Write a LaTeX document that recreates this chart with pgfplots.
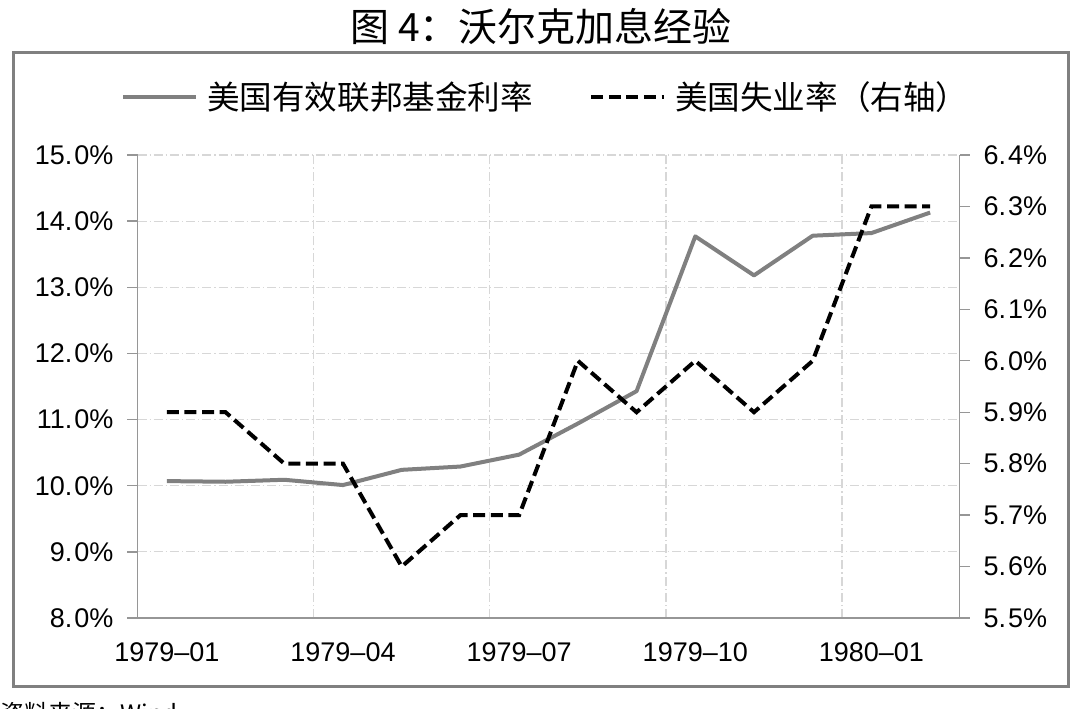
\documentclass[border=0pt]{standalone}
\usepackage{fontspec}
\setmainfont{Liberation Sans}
\newfontfamily\cjk{Noto Sans CJK SC}
\usepackage{pgfplots}
\pgfplotsset{compat=1.18}
\definecolor{fedgray}{RGB}{128,128,128}
\definecolor{axisgray}{RGB}{150,150,150}
\definecolor{gridgray}{RGB}{215,215,215}
\definecolor{framegray}{RGB}{128,128,128}
\begin{document}
\begin{tikzpicture}
\useasboundingbox (0pt,0pt) rectangle (540pt,354pt);
% frame
\draw[framegray, line width=1.5pt] (6.5pt,11pt) rectangle (534pt,327.5pt);
% title
\node[font=\cjk\fontsize{19.5}{23}\selectfont, anchor=center] at (270.5pt,340.5pt) {图 4：沃尔克加息经验};
% cropped source note (cut by the lower edge, as in the reference)
\node[font=\cjk\fontsize{12}{14}\selectfont, anchor=north west, inner sep=0pt] at (0pt,3pt) {资料来源：Wind，};

\begin{axis}[
  at={(68.75pt,45pt)}, anchor=south west,
  scale only axis, width=411pt, height=231.5pt,
  xmin=-0.5, xmax=13.5, ymin=8, ymax=15,
  axis x line*=bottom, axis y line*=left,
  axis line style={draw=axisgray, line width=0.7pt, -},
  tick align=outside, major tick length=5pt, minor tick length=5pt,
  tick style={axisgray, line width=0.7pt},
  xtick={0,3,6,9,12},
  xticklabels={1979–01,1979–04,1979–07,1979–10,1980–01},
  xtick style={draw=none},
  minor xtick={-0.5,2.5,5.5,8.5,11.5},
  xminorgrids=true, xmajorgrids=false, ymajorgrids=true,
  grid style={gridgray, line width=0.6pt, dash pattern=on 4.5pt off 1.5pt on 0.6pt off 1.5pt},
  minor grid style={gridgray, line width=0.6pt, dash pattern=on 4.5pt off 1.5pt on 0.6pt off 1.5pt},
  ytick={8,9,10,11,12,13,14,15},
  yticklabels={8.\kern1pt0\%,9.\kern1pt0\%,10.\kern1pt0\%,11.\kern1pt0\%,12.\kern1pt0\%,13.\kern1pt0\%,14.\kern1pt0\%,15.\kern1pt0\%},
  /pgf/number format/assume math mode=true,
  ticklabel style={font=\fontsize{13.5}{16}\selectfont, text=black},
  yticklabel style={xshift=-3.5pt},
  xticklabel style={yshift=-4pt},
  legend style={at={(0.498,1.125)}, anchor=center, legend columns=2, draw=none, fill=none,
    font=\cjk\fontsize{16.3}{19}\selectfont,
    /tikz/every odd column/.append style={column sep=2.5pt},
    /tikz/every even column/.append style={column sep=26pt}},
  legend image code/.code={\draw[#1, line cap=butt] (0pt,0pt) -- (36.5pt,0pt);},
  clip=false,
]
\addplot[fedgray, line width=2pt, line join=round] coordinates {
 (0,10.07) (1,10.06) (2,10.09) (3,10.01) (4,10.24) (5,10.29) (6,10.47)
 (7,10.94) (8,11.43) (9,13.77) (10,13.18) (11,13.78) (12,13.82) (13,14.13)
};
\addlegendentry{美国有效联邦基金利率}
\addlegendimage{black, line width=2pt, dash pattern=on 6pt off 2.8pt}
\addlegendentry{美国失业率（右轴）}
\end{axis}

\begin{axis}[
  at={(68.75pt,45pt)}, anchor=south west,
  scale only axis, width=411pt, height=231.5pt,
  xmin=-0.5, xmax=13.5, ymin=5.5, ymax=6.4,
  axis x line=none, axis y line*=right,
  axis line style={draw=axisgray, line width=0.7pt, -},
  tick align=outside, major tick length=5pt,
  tick style={axisgray, line width=0.7pt},
  ytick={5.5,5.6,5.7,5.8,5.9,6.0,6.1,6.2,6.3,6.4},
  yticklabels={5.\kern1pt5\%,5.\kern1pt6\%,5.\kern1pt7\%,5.\kern1pt8\%,5.\kern1pt9\%,6.\kern1pt0\%,6.\kern1pt1\%,6.\kern1pt2\%,6.\kern1pt3\%,6.\kern1pt4\%},
  /pgf/number format/assume math mode=true,
  ticklabel style={font=\fontsize{13.5}{16}\selectfont, text=black},
  yticklabel style={xshift=3.5pt},
  clip=false,
]
\addplot[black, line width=2pt, line join=miter, dash pattern=on 6pt off 2.8pt] coordinates {
 (0,5.9) (1,5.9) (2,5.8) (3,5.8) (4,5.6) (5,5.7) (6,5.7)
 (7,6.0) (8,5.9) (9,6.0) (10,5.9) (11,6.0) (12,6.3) (13,6.3)
};
\end{axis}
\end{tikzpicture}
\end{document}
